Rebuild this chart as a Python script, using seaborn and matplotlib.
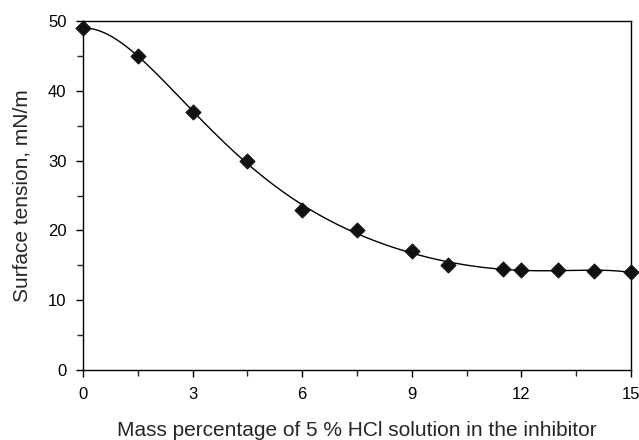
import numpy as np
import matplotlib
matplotlib.use("Agg")
import matplotlib.pyplot as plt
import seaborn as sns
import pandas as pd
from matplotlib.ticker import MultipleLocator

mass_pct = [0, 1.5, 3, 4.5, 6, 7.5, 9, 10, 11.5, 12, 13, 14, 15]
surface_tension = [49, 45, 37, 30, 23, 20, 17, 15.0, 14.5, 14.4, 14.3, 14.2, 14.0]

sns.set_style("ticks")
plt.rcParams['font.family'] = ['Liberation Sans', 'DejaVu Sans']

# smooth trend curve fitted to the data
coef = np.polyfit(mass_pct, surface_tension, 6)
cx = np.linspace(0, 15, 300)
cy = np.polyval(coef, cx)

df = pd.DataFrame({"x": mass_pct, "y": surface_tension})
curve = pd.DataFrame({"x": cx, "y": cy})

fig = plt.figure(figsize=(6.39, 4.40), dpi=100)
ax = fig.add_axes([0.130, 0.159, 0.8575, 0.793])
sns.lineplot(data=curve, x="x", y="y", ax=ax, color="black", linewidth=1.0, sort=False, estimator=None)
sns.scatterplot(data=df, x="x", y="y", ax=ax, marker="D", s=60, color="#111111", edgecolor="#111111", zorder=5, clip_on=False)

ax.set_xlim(0, 15)
ax.set_ylim(0, 50)
ax.xaxis.set_major_locator(MultipleLocator(3))
ax.xaxis.set_minor_locator(MultipleLocator(1.5))
ax.yaxis.set_major_locator(MultipleLocator(10))
ax.yaxis.set_minor_locator(MultipleLocator(5))
ax.tick_params(which="major", direction="out", length=5, width=1, labelsize=12, pad=7, colors="black")
ax.tick_params(which="minor", direction="out", length=4, width=1)
for s in ax.spines.values():
    s.set_color("black"); s.set_linewidth(1.0)
    s.set_visible(True)
ax.set_xlabel("Mass percentage of 5 % HCl solution in the inhibitor", fontsize=15, labelpad=14)
ax.set_ylabel("Surface tension, mN/m", fontsize=15, labelpad=12)
fig.savefig("out.png", dpi=100)
